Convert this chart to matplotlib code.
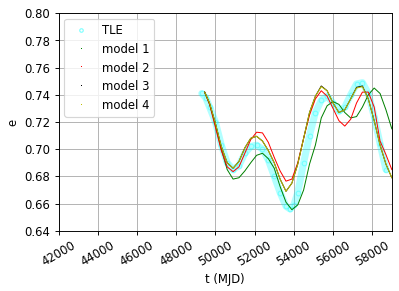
import numpy as np
import matplotlib
matplotlib.use("Agg")
from matplotlib import pyplot as plt
from matplotlib.lines import Line2D

# TLE observations (MJD, eccentricity)
tle_t = [49300, 49500, 49700, 50000, 50300, 50600, 50900, 51200, 51500, 51800,
         52100, 52400, 52700, 53000, 53300, 53600, 53800, 54000, 54200, 54500,
         54800, 55100, 55400, 55700, 56000, 56300, 56600, 56900, 57200, 57500,
         57800, 58100, 58400, 58700]
tle_e = [0.741, 0.738, 0.731, 0.720, 0.703, 0.690, 0.685, 0.688, 0.697, 0.702,
         0.703, 0.700, 0.692, 0.680, 0.668, 0.658, 0.656, 0.659, 0.668, 0.690,
         0.710, 0.727, 0.736, 0.739, 0.734, 0.728, 0.731, 0.740, 0.748, 0.749,
         0.741, 0.724, 0.704, 0.685]

# model epochs
model_t = [49450, 49700, 50000, 50300, 50600, 50900, 51200, 51500, 51800, 52100,
           52400, 52700, 53000, 53300, 53600, 53900, 54200, 54500, 54800, 55100,
           55400, 55700, 56000, 56300, 56600, 56900, 57200, 57500, 57800, 58100,
           58400, 58700, 59000]
model1_e = [0.742, 0.733, 0.718, 0.700, 0.685, 0.678, 0.679, 0.684, 0.690, 0.6955,
            0.697, 0.693, 0.686, 0.6725, 0.661, 0.6555, 0.659, 0.670, 0.689, 0.703,
            0.723, 0.732, 0.735, 0.733, 0.727, 0.723, 0.724, 0.731, 0.740, 0.745,
            0.741, 0.729, 0.715]
model2_e = [0.742, 0.733, 0.716, 0.699, 0.687, 0.6835, 0.687, 0.697, 0.707, 0.7125,
            0.712, 0.705, 0.694, 0.684, 0.6765, 0.678, 0.690, 0.708, 0.725, 0.737,
            0.743, 0.739, 0.730, 0.721, 0.717, 0.722, 0.734, 0.742, 0.742, 0.731,
            0.706, 0.696, 0.685]
model3_e = [0.742, 0.734, 0.719, 0.702, 0.690, 0.686, 0.691, 0.701, 0.708, 0.7095,
            0.706, 0.699, 0.690, 0.678, 0.669, 0.675, 0.689, 0.708, 0.727, 0.739,
            0.7465, 0.743, 0.734, 0.727, 0.729, 0.737, 0.7455, 0.7465, 0.737, 0.721,
            0.703, 0.689, 0.679]
model4_e = [0.742, 0.734, 0.719, 0.702, 0.690, 0.686, 0.691, 0.701, 0.708, 0.7095,
            0.706, 0.699, 0.690, 0.678, 0.669, 0.675, 0.689, 0.708, 0.727, 0.739,
            0.746, 0.743, 0.734, 0.727, 0.729, 0.737, 0.745, 0.746, 0.737, 0.721,
            0.703, 0.689, 0.679]

fig = plt.figure(figsize=(4.75, 3.4655), dpi=84)
ax = fig.add_axes([0.147, 0.207, 0.835, 0.747])

# TLE band
ax.plot(tle_t, tle_e, color="cyan", lw=6, alpha=0.3, solid_capstyle="round")
ax.plot(tle_t, tle_e, "o", color="cyan", mfc="none", ms=4, alpha=0.35)

ax.plot(model_t, model1_e, color="g", lw=0.85)
ax.plot(model_t, model2_e, color="r", lw=0.85)
ax.plot(model_t, model3_e, color="k", lw=0.85)
ax.plot(model_t, model4_e, color="y", lw=0.85)

handles = [
    Line2D([], [], marker="o", ls="", color="cyan", mfc="none", ms=3, alpha=0.5),
    Line2D([], [], marker=",", ls="", color="g"),
    Line2D([], [], marker=",", ls="", color="r"),
    Line2D([], [], marker=",", ls="", color="k"),
    Line2D([], [], marker=",", ls="", color="y"),
]
ax.legend(handles, ["TLE", "model 1", "model 2", "model 3", "model 4"], loc="upper left")

ax.set_xlim(42000, 59000)
ax.set_ylim(0.64, 0.80)
ax.set_xticks(np.arange(42000, 58001, 2000))
ax.set_yticks(np.arange(0.64, 0.801, 0.02))
ax.set_yticklabels(["%.2f" % v for v in np.arange(0.64, 0.801, 0.02)])
plt.setp(ax.get_xticklabels(), rotation=30)
ax.grid(True)
ax.set_xlabel("t (MJD)")
ax.set_ylabel("e")

fig.savefig("out.png", dpi=84)
